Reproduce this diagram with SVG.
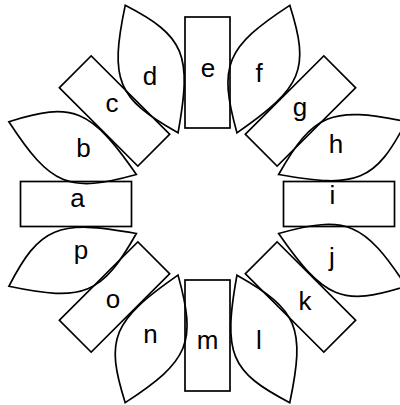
<svg xmlns="http://www.w3.org/2000/svg" width="400" height="405" viewBox="0 0 400 405">
<defs>
<style>
.s{fill:none;stroke:#000;stroke-width:1.7;stroke-linejoin:miter}
text{font-family:"Liberation Sans",Arial,sans-serif;font-size:26px;fill:#000;text-anchor:middle}
</style>
<rect id="bar" x="76" y="-22.5" width="111" height="45"/>
<path id="leaf" d="M77,0 C132.3,-43.3 151.7,-43.3 215,0 C163.7,43.3 144.3,43.3 77,0 Z"/>
</defs>
<rect width="400" height="405" fill="#fff"/>
<g transform="translate(207.5,204)">
<g id="a"><use href="#bar" class="s" transform="rotate(180)"/></g>
<g id="b"><use href="#leaf" class="s" transform="rotate(-157.5)"/></g>
<g id="c"><use href="#bar" class="s" transform="rotate(-135)"/></g>
<g id="d"><use href="#leaf" class="s" transform="rotate(-112.5)"/></g>
<g id="e"><use href="#bar" class="s" transform="rotate(-90)"/></g>
<g id="f"><use href="#leaf" class="s" transform="rotate(-67.5)"/></g>
<g id="g"><use href="#bar" class="s" transform="rotate(-45)"/></g>
<g id="h"><use href="#leaf" class="s" transform="rotate(-22.5)"/></g>
<g id="i"><use href="#bar" class="s" transform="rotate(0)"/></g>
<g id="j"><use href="#leaf" class="s" transform="rotate(22.5)"/></g>
<g id="k"><use href="#bar" class="s" transform="rotate(45)"/></g>
<g id="l"><use href="#leaf" class="s" transform="rotate(67.5)"/></g>
<g id="m"><use href="#bar" class="s" transform="rotate(90)"/></g>
<g id="n"><use href="#leaf" class="s" transform="rotate(112.5)"/></g>
<g id="o"><use href="#bar" class="s" transform="rotate(135)"/></g>
<g id="p"><use href="#leaf" class="s" transform="rotate(157.5)"/></g>
</g>
<g id="labels">
<text x="77.5" y="207">a</text>
<text x="83.5" y="157">b</text>
<text x="112" y="112">c</text>
<text x="150" y="85">d</text>
<text x="208" y="77">e</text>
<text x="259" y="82">f</text>
<text x="300" y="116">g</text>
<text x="336" y="153">h</text>
<text x="332.5" y="204">i</text>
<text x="332" y="266">j</text>
<text x="305" y="310">k</text>
<text x="259" y="349">l</text>
<text x="207.5" y="349">m</text>
<text x="150.5" y="343">n</text>
<text x="113" y="308">o</text>
<text x="81" y="259">p</text>
</g>
<g id="connectors"/>
</svg>
